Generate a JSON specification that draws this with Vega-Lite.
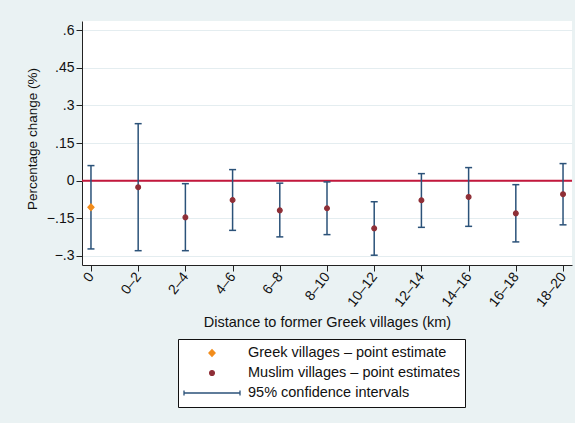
{
  "$schema": "https://vega.github.io/schema/vega-lite/v6.json",
  "width": 490,
  "height": 244,
  "autosize": {"type": "none"},
  "padding": {"left": 82, "top": 21, "right": 3, "bottom": 158},
  "background": "#eaf2f3",
  "config": {
    "view": {"fill": "white", "stroke": null},
    "font": "Liberation Sans",
    "axisX": {
      "titleFontSize": 14.5, "titleFontWeight": "normal", "titleColor": "#111",
      "titleY": 57, "titleBaseline": "middle",
      "labelAngle": -52, "labelAlign": "right", "labelBaseline": "middle",
      "labelFontSize": 14, "labelColor": "#111", "labelPadding": 3,
      "tickSize": 6, "tickColor": "#222", "domainColor": "#222", "grid": false
    },
    "axisY": {
      "titleFontSize": 13.5, "titleFontWeight": "normal", "titleColor": "#111",
      "titleX": -50, "titleY": 117.5, "titleBaseline": "middle",
      "labelFontSize": 14, "labelColor": "#111", "labelPadding": 2,
      "tickSize": 6, "tickColor": "#222", "domainColor": "#222",
      "grid": true, "gridColor": "#e4edf0", "gridWidth": 1.2
    },
    "legend": {
      "orient": "none", "legendX": 96, "legendY": 318,
      "padding": 5, "symbolOffset": 0, "labelOffset": 7, "clipHeight": 18, "rowPadding": 2,
      "symbolSize": 3136, "symbolStrokeWidth": 1.3,
      "labelFontSize": 14.5, "labelColor": "#111", "labelLimit": 400,
      "labelExpr": "datum.label + '\u00a0\u00a0\u00a0'",
      "strokeColor": "#111", "fillColor": "white", "cornerRadius": 0
    }
  },
  "data": {
    "values": [
      {"dist": "0", "est": -0.106, "lo": -0.272, "hi": 0.060, "group": "Greek villages – point estimate"},
      {"dist": "0–2", "est": -0.026, "lo": -0.279, "hi": 0.227, "group": "Muslim villages – point estimates"},
      {"dist": "2–4", "est": -0.146, "lo": -0.279, "hi": -0.012, "group": "Muslim villages – point estimates"},
      {"dist": "4–6", "est": -0.077, "lo": -0.198, "hi": 0.044, "group": "Muslim villages – point estimates"},
      {"dist": "6–8", "est": -0.118, "lo": -0.224, "hi": -0.010, "group": "Muslim villages – point estimates"},
      {"dist": "8–10", "est": -0.110, "lo": -0.215, "hi": -0.005, "group": "Muslim villages – point estimates"},
      {"dist": "10–12", "est": -0.190, "lo": -0.297, "hi": -0.084, "group": "Muslim villages – point estimates"},
      {"dist": "12–14", "est": -0.078, "lo": -0.186, "hi": 0.028, "group": "Muslim villages – point estimates"},
      {"dist": "14–16", "est": -0.065, "lo": -0.182, "hi": 0.052, "group": "Muslim villages – point estimates"},
      {"dist": "16–18", "est": -0.130, "lo": -0.244, "hi": -0.016, "group": "Muslim villages – point estimates"},
      {"dist": "18–20", "est": -0.054, "lo": -0.176, "hi": 0.068, "group": "Muslim villages – point estimates"}
    ]
  },
  "layer": [
    {
      "data": {"values": [{"z": 0}]},
      "mark": {"type": "rule", "color": "#c4183c", "strokeWidth": 2},
      "encoding": {
        "y": {
          "field": "z", "type": "quantitative", "title": "Percentage change (%)",
          "scale": {"domain": [-0.336, 0.636], "nice": false, "zero": false},
          "axis": {
            "values": [-0.3, -0.15, 0, 0.15, 0.3, 0.45, 0.6],
            "labelExpr": "datum.value == 0 ? '0' : (datum.value < 0 ? '−' : '') + replace(format(abs(datum.value), '.2~f'), '0.', '.')"
          }
        }
      }
    },
    {
      "mark": {"type": "rule", "color": "#2b5279", "strokeWidth": 1.5},
      "encoding": {
        "x": {
          "field": "dist", "type": "ordinal", "sort": null, "title": "Distance to former Greek villages (km)",
          "scale": {"type": "point", "padding": 0.19}
        },
        "y": {
          "field": "lo", "type": "quantitative", "title": "Percentage change (%)",
          "axis": {
            "values": [-0.3, -0.15, 0, 0.15, 0.3, 0.45, 0.6],
            "labelExpr": "datum.value == 0 ? '0' : (datum.value < 0 ? '−' : '') + replace(format(abs(datum.value), '.2~f'), '0.', '.')"
          }
        },
        "y2": {"field": "hi"}
      }
    },
    {
      "mark": {"type": "tick", "color": "#2b5279", "orient": "horizontal", "size": 7, "thickness": 1.5, "opacity": 1},
      "encoding": {
        "x": {"field": "dist", "type": "ordinal", "sort": null, "title": "Distance to former Greek villages (km)"},
        "y": {
          "field": "lo", "type": "quantitative", "title": "Percentage change (%)",
          "axis": {
            "values": [-0.3, -0.15, 0, 0.15, 0.3, 0.45, 0.6],
            "labelExpr": "datum.value == 0 ? '0' : (datum.value < 0 ? '−' : '') + replace(format(abs(datum.value), '.2~f'), '0.', '.')"
          }
        }
      }
    },
    {
      "mark": {"type": "tick", "color": "#2b5279", "orient": "horizontal", "size": 7, "thickness": 1.5, "opacity": 1},
      "encoding": {
        "x": {"field": "dist", "type": "ordinal", "sort": null, "title": "Distance to former Greek villages (km)"},
        "y": {
          "field": "hi", "type": "quantitative", "title": "Percentage change (%)",
          "axis": {
            "values": [-0.3, -0.15, 0, 0.15, 0.3, 0.45, 0.6],
            "labelExpr": "datum.value == 0 ? '0' : (datum.value < 0 ? '−' : '') + replace(format(abs(datum.value), '.2~f'), '0.', '.')"
          }
        }
      }
    },
    {
      "mark": {"type": "point", "filled": true, "size": 3136, "strokeWidth": 1.2, "opacity": 1},
      "encoding": {
        "x": {"field": "dist", "type": "ordinal", "sort": null, "title": "Distance to former Greek villages (km)"},
        "y": {
          "field": "est", "type": "quantitative", "title": "Percentage change (%)",
          "axis": {
            "values": [-0.3, -0.15, 0, 0.15, 0.3, 0.45, 0.6],
            "labelExpr": "datum.value == 0 ? '0' : (datum.value < 0 ? '−' : '') + replace(format(abs(datum.value), '.2~f'), '0.', '.')"
          }
        },
        "fill": {
          "field": "group", "type": "nominal",
          "scale": {
            "domain": ["Greek villages – point estimate", "Muslim villages – point estimates", "95% confidence intervals"],
            "range": ["#f28c1b", "#8f2f37", "#2b5279"]
          },
          "legend": {"title": null}
        },
        "stroke": {
          "field": "group", "type": "nominal",
          "scale": {
            "domain": ["Greek villages – point estimate", "Muslim villages – point estimates", "95% confidence intervals"],
            "range": ["#f28c1b", "#8f2f37", "#2b5279"]
          },
          "legend": {"title": null}
        },
        "shape": {
          "field": "group", "type": "nominal",
          "scale": {
            "domain": ["Greek villages – point estimate", "Muslim villages – point estimates", "95% confidence intervals"],
            "range": [
              "M0,-0.12L0.11,0L0,0.12L-0.11,0Z",
              "M0.085,0A0.085,0.085,0,1,1,-0.085,0A0.085,0.085,0,1,1,0.085,0Z",
              "M-1,0L1,0M-1,-0.09L-1,0.09M1,-0.09L1,0.09"
            ]
          },
          "legend": {"title": null}
        }
      }
    }
  ]
}
